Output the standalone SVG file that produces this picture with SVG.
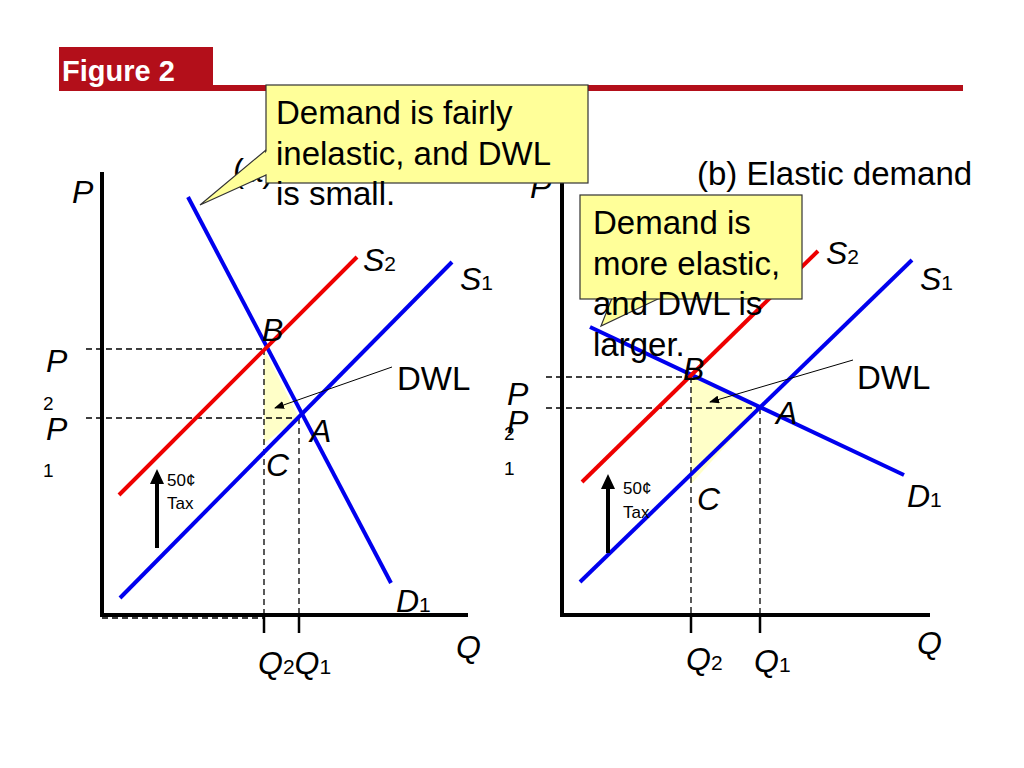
<svg xmlns="http://www.w3.org/2000/svg" width="1024" height="768" viewBox="0 0 1024 768">
<defs>
<style>
text{font-family:"Liberation Sans",Arial,sans-serif;fill:#000}
.lb{font-size:32px;font-style:italic}
.sub{font-size:21px;font-style:normal}
.big{font-size:33px}
.sm{font-size:17px}
.ax{stroke:#000;stroke-width:4;fill:none}
.d{stroke:#000;stroke-width:1.3;stroke-dasharray:6 4;fill:none}
.blue{stroke:#0000ee;stroke-width:4;fill:none}
.red{stroke:#ee0000;stroke-width:4;fill:none}
.call{fill:#ffff99;stroke:#333;stroke-width:1.2}
</style>
<marker id="ah" markerWidth="10" markerHeight="8" refX="9" refY="4" orient="auto" markerUnits="userSpaceOnUse"><path d="M0,0 L10,4 L0,8 Z" fill="#000"/></marker>
</defs>
<rect width="1024" height="768" fill="#fff"/>
<g id="header">
<rect x="59" y="47" width="154" height="44" fill="#b30f1a"/>
<line x1="213" y1="88" x2="963" y2="88" stroke="#b30f1a" stroke-width="6"/>
<text x="62" y="81" style="font-size:29px;font-weight:bold;fill:#fff">Figure 2</text>
</g>
<g id="panel-a">
<text x="233" y="182" style="font-size:33px">(a) Inelastic demand</text>
<polygon id="dwl-a" points="264,349 299,418 264,443" fill="#ffffc8"/>
<line class="ax" x1="102" y1="172" x2="102" y2="617"/>
<line class="ax" x1="100" y1="615" x2="468" y2="615"/>
<text x="72" y="203" class="lb">P</text>
<text x="456" y="658" class="lb">Q</text>
</g>
<g id="connectors">
<line class="d" x1="86" y1="349" x2="264" y2="349"/>
<line class="d" x1="86" y1="418" x2="299" y2="418"/>
<line class="d" x1="264" y1="349" x2="264" y2="615"/>
<line class="d" x1="299" y1="418" x2="299" y2="615"/>
<line class="d" x1="102" y1="618" x2="264" y2="618"/>
<line stroke="#000" stroke-width="2.5" x1="264" y1="615" x2="264" y2="633"/>
<line stroke="#000" stroke-width="2.5" x1="299" y1="615" x2="299" y2="633"/>
<line class="blue" x1="188" y1="197" x2="391" y2="583"/>
<line class="red" x1="119" y1="495" x2="357" y2="257"/>
<line class="blue" x1="120" y1="598" x2="452" y2="262"/>
<line stroke="#000" stroke-width="1" x1="392" y1="367" x2="275" y2="408" marker-end="url(#ah)"/>
<line stroke="#000" stroke-width="4" x1="157" y1="548" x2="157" y2="482"/>
<polygon points="150,484 157,469 164,484" fill="#000"/>
<polygon id="dwl-b" points="691,377 760,408 691,484" fill="#ffffc8"/>
<line class="d" x1="546" y1="377" x2="691" y2="377"/>
<line class="d" x1="546" y1="408" x2="760" y2="408"/>
<line class="d" x1="691" y1="377" x2="691" y2="615"/>
<line class="d" x1="760" y1="408" x2="760" y2="615"/>
<line stroke="#000" stroke-width="2.5" x1="691" y1="615" x2="691" y2="633"/>
<line stroke="#000" stroke-width="2.5" x1="760" y1="615" x2="760" y2="633"/>
<line class="blue" x1="590" y1="327" x2="904" y2="475"/>
<line class="red" x1="582" y1="482" x2="818" y2="251"/>
<line class="blue" x1="580" y1="582" x2="912" y2="260"/>
<line stroke="#000" stroke-width="1" x1="853" y1="360" x2="710" y2="402" marker-end="url(#ah)"/>
<line stroke="#000" stroke-width="4" x1="608" y1="553" x2="608" y2="487"/>
<polygon points="601,489 608,474 615,489" fill="#000"/>
</g>
<g id="labels-a">
<text x="363" y="271" class="lb">S<tspan class="sub">2</tspan></text>
<text x="460" y="290" class="lb">S<tspan class="sub">1</tspan></text>
<text x="262" y="341" class="lb">B</text>
<text x="310" y="442" class="lb">A</text>
<text x="266" y="476" class="lb">C</text>
<text x="396" y="612" class="lb">D<tspan class="sub">1</tspan></text>
<text x="397" y="390" class="big">DWL</text>
<text x="46" y="372" class="lb">P</text>
<text x="43" y="410" style="font-size:19px">2</text>
<text x="46" y="440" class="lb">P</text>
<text x="43" y="477" style="font-size:19px">1</text>
<text x="258" y="674" class="lb">Q<tspan class="sub">2</tspan><tspan style="font-size:32px">Q</tspan><tspan class="sub">1</tspan></text>
<text x="167" y="486" class="sm">50¢</text>
<text x="167" y="509" class="sm">Tax</text>
</g>
<g id="panel-b">
<line class="ax" x1="562" y1="180" x2="562" y2="617"/>
<line class="ax" x1="560" y1="615" x2="930" y2="615"/>
<text x="530" y="198" class="lb">P</text>
<text x="917" y="654" class="lb">Q</text>
<text x="697" y="185" style="font-size:33px">(b) Elastic demand</text>
<text x="826" y="264" class="lb">S<tspan class="sub">2</tspan></text>
<text x="920" y="290" class="lb">S<tspan class="sub">1</tspan></text>
<text x="683" y="380" class="lb">B</text>
<text x="776" y="424" class="lb">A</text>
<text x="697" y="510" class="lb">C</text>
<text x="907" y="507" class="lb">D<tspan class="sub">1</tspan></text>
<text x="857" y="389" class="big">DWL</text>
<text x="507" y="405" class="lb">P</text>
<text x="504" y="440" style="font-size:19px">2</text>
<text x="507" y="433" class="lb">P</text>
<text x="504" y="475" style="font-size:19px">1</text>
<text x="686" y="670" class="lb">Q<tspan class="sub">2</tspan></text>
<text x="754" y="672" class="lb">Q<tspan class="sub">1</tspan></text>
<text x="623" y="494" class="sm">50¢</text>
<text x="623" y="518" class="sm">Tax</text>
</g>
<g id="callout-a">
<polygon class="call" points="266,150 200,205 266,175"/>
<rect class="call" x="266" y="85" width="322" height="98"/>
<polygon points="267,151 267,174 240,182" fill="#ffff99"/>
<text x="276" y="124" class="big">Demand is fairly</text>
<text x="276" y="165" class="big">inelastic, and DWL</text>
<text x="276" y="205" class="big">is small.</text>
</g>
<g id="callout-b">
<polygon class="call" points="612,298 601,326 660,298"/>
<rect class="call" x="580" y="195" width="222" height="104"/>
<text x="593" y="234" class="big">Demand is</text>
<text x="593" y="275" class="big">more elastic,</text>
<text x="593" y="315" class="big">and DWL is</text>
<text x="593" y="356" class="big">larger.</text>
</g>
</svg>
